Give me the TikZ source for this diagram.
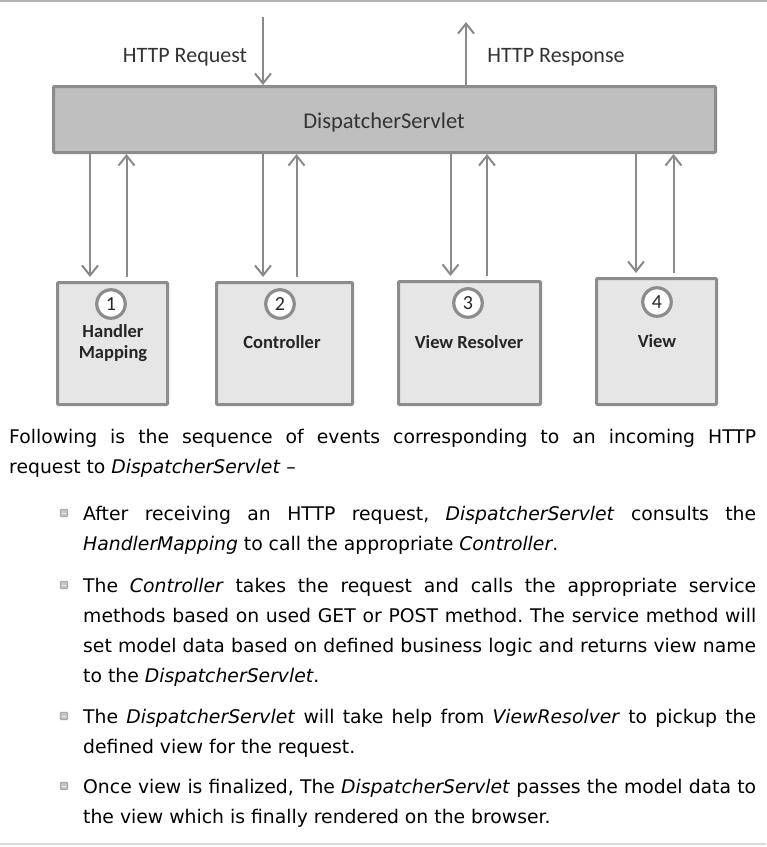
\documentclass[tikz,border=0pt]{standalone}
\usepackage{fontspec}
\setmainfont{DejaVu Sans}
\newfontfamily\diafont{Carlito}
\newfontfamily\bodyfont{DejaVu Sans}
\usetikzlibrary{arrows.meta}
\frenchspacing
\definecolor{bordergray}{HTML}{8C8C8C}
\definecolor{arrowgray}{HTML}{8A8A8A}
\definecolor{dsfill}{HTML}{BFBFBF}
\definecolor{boxfill}{HTML}{E6E6E6}
\definecolor{topline}{HTML}{B3B3B3}
\definecolor{botline}{HTML}{D9D9D9}
\definecolor{diatext}{HTML}{333333}
\definecolor{bulletfill}{HTML}{C4C4C4}
\definecolor{bulletdraw}{HTML}{9A9A9A}
\begin{document}
\begin{tikzpicture}[x=1pt,y=-1pt,
  mainbox/.style={draw=bordergray, fill=dsfill, line width=3pt, rounded corners=1pt, inner sep=0pt, minimum width=662pt, minimum height=66pt},
  compbox/.style={draw=bordergray, fill=boxfill, line width=3pt, rounded corners=1pt, inner sep=0pt},
  numcircle/.style={circle, draw=bordergray, fill=white, line width=3.2pt, minimum size=28.5pt, inner sep=0pt, font=\diafont\fontsize{20}{20}\selectfont, text=black!85},
  toplabel/.style={anchor=base, inner sep=0pt, font=\diafont\fontsize{22}{26}\selectfont, text=diatext},
  boxlabel/.style={anchor=base, inner sep=0pt, font=\diafont\bfseries\fontsize{18.5}{21}\selectfont, text=black!85},
  arr/.style={draw=arrowgray, line width=2pt, -{Straight Barb[length=10pt, width=16pt, line width=2pt]}},
  bodyline/.style={anchor=base west, inner sep=0pt, font=\bodyfont\fontsize{18.8}{22}\selectfont, text=black},
  bulletbox/.style={draw=bulletdraw, fill=bulletfill, line width=0.8pt, rounded corners=1.2pt, minimum size=7.5pt, inner sep=0pt}
]
\useasboundingbox (0,0) rectangle (767,847);
\fill[white] (0,0) rectangle (767,847);
\draw[topline, line width=1.5pt] (0,1) -- (767,1);
\draw[botline, line width=1.5pt] (0,844) -- (766,844);

% main box
\node[mainbox] (ds) at (384.5,119.5) {};
\node[toplabel, font=\diafont\fontsize{22.5}{26}\selectfont] (dslab) at (384,128) {DispatcherServlet};

% request / response
\coordinate (reqtop) at (263,17);
\coordinate (restop) at (466,22);
\draw[arr] (reqtop) -- (reqtop |- ds.north);
\draw[arr] (restop |- ds.north) -- (restop);
\node[toplabel] (reqlab) at (185,62) {HTTP Request};
\node[toplabel] (reslab) at (556,62) {HTTP Response};

% component boxes
\node[compbox, minimum width=110pt, minimum height=122pt] (hm) at (112.5,343.5) {};
\node[compbox, minimum width=136pt, minimum height=122pt] (ctrl) at (284.5,343.5) {};
\node[compbox, minimum width=142pt, minimum height=123pt] (vr) at (469.5,343) {};
\node[compbox, minimum width=120pt, minimum height=126pt] (vw) at (656.5,341.5) {};

% circles
\node[numcircle] (c1) at (111,304) {1};
\node[numcircle] (c2) at (280,304) {2};
\node[numcircle] (c3) at (468,303) {3};
\node[numcircle] (c4) at (657,302) {4};

% labels
\node[boxlabel] (hml1) at (113,337) {Handler};
\node[boxlabel] (hml2) at (113,358) {Mapping};
\node[boxlabel] (ctrll) at (282,348) {Controller};
\node[boxlabel] (vrl) at (469,348) {View Resolver};
\node[boxlabel] (vwl) at (657,347) {View};

% vertical arrow x positions
\coordinate (x1d) at (90,0);   \coordinate (x1u) at (126.5,0);
\coordinate (x2d) at (263,0);  \coordinate (x2u) at (296.5,0);
\coordinate (x3d) at (450.5,0);\coordinate (x3u) at (487,0);
\coordinate (x4d) at (636,0);  \coordinate (x4u) at (673.5,0);

\draw[arr, shorten >=4pt] (ds.south -| x1d) -- (hm.north -| x1d);
\draw[arr, shorten <=4pt] (hm.north -| x1u) -- (ds.south -| x1u);
\draw[arr, shorten >=4pt] (ds.south -| x2d) -- (ctrl.north -| x2d);
\draw[arr, shorten <=4pt] (ctrl.north -| x2u) -- (ds.south -| x2u);
\draw[arr, shorten >=4pt] (ds.south -| x3d) -- (vr.north -| x3d);
\draw[arr, shorten <=4pt] (vr.north -| x3u) -- (ds.south -| x3u);
\draw[arr, shorten >=4pt] (ds.south -| x4d) -- (vw.north -| x4d);
\draw[arr, shorten <=4pt] (vw.north -| x4u) -- (ds.south -| x4u);

% body text
\node[bodyline] (p1) at (9,443) {\makebox[747pt][s]{Following is the sequence of events corresponding to an incoming HTTP}};
\node[bodyline] (p2) at (9,473) {request to \textit{DispatcherServlet} –};

\node[bulletbox] (b1) at (64,513) {};
\node[bodyline] (l1a) at (83,520) {\makebox[673pt][s]{After receiving an HTTP request, \textit{DispatcherServlet} consults the}};
\node[bodyline] (l1b) at (83,550) {\textit{HandlerMapping} to call the appropriate \textit{Controller}.};

\node[bulletbox] (b2) at (64,585) {};
\node[bodyline] (l2a) at (83,592) {\makebox[673pt][s]{The \textit{Controller} takes the request and calls the appropriate service}};
\node[bodyline] (l2b) at (83,622) {\makebox[673pt][s]{methods based on used GET or POST method. The service method will}};
\node[bodyline] (l2c) at (83,652) {\makebox[673pt][s]{set model data based on defined business logic and returns view name}};
\node[bodyline] (l2d) at (83,682) {to the \textit{DispatcherServlet}.};

\node[bulletbox] (b3) at (64,716) {};
\node[bodyline] (l3a) at (83,723) {\makebox[673pt][s]{The \textit{DispatcherServlet} will take help from \textit{ViewResolver} to pickup the}};
\node[bodyline] (l3b) at (83,753) {defined view for the request.};

\node[bulletbox] (b4) at (64,786) {};
\node[bodyline] (l4a) at (83,793) {\makebox[673pt][s]{Once view is finalized, The \textit{DispatcherServlet} passes the model data to}};
\node[bodyline] (l4b) at (83,823) {the view which is finally rendered on the browser.};

% bullet inner marks
\foreach \b in {b1,b2,b3,b4}{
  \draw[white!85!gray, line width=1pt] ([xshift=-2pt]\b.center) -- ([xshift=2pt]\b.center);
}
\end{tikzpicture}
\end{document}
